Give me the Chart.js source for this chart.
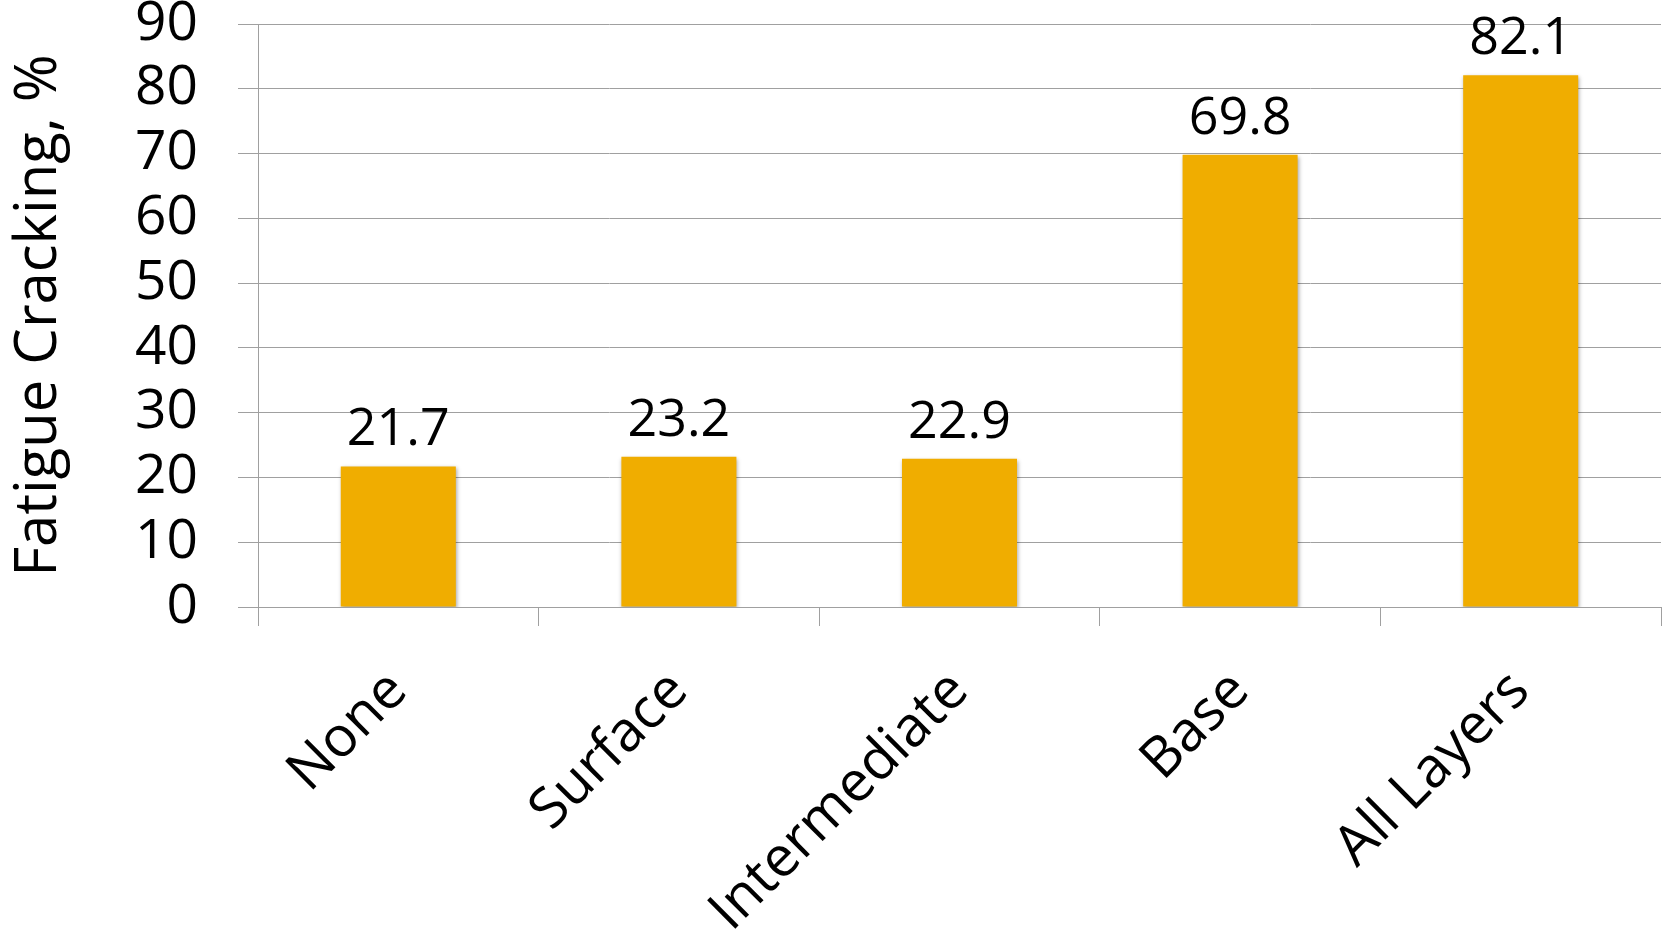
<!DOCTYPE html>
<html>
<head>
<meta charset="utf-8">
<script src="https://cdn.jsdelivr.net/npm/chart.js@4/dist/chart.umd.min.js"></script>
<style>
  html, body { margin: 0; padding: 0; background: #ffffff; }
  #wrap { width: 1670px; height: 930px; }
</style>
</head>
<body>
<div id="wrap"><canvas id="c" width="1670" height="930"></canvas></div>
<script>
const categories = ['None', 'Surface', 'Intermediate', 'Base', 'All Layers'];
const fatigueCracking = [21.7, 23.2, 22.9, 69.8, 82.1];
const yMin = 0;
const yMax = 90;
const yStep = 10;
const yTitle = 'Fatigue Cracking, %';

const FONT = "'Open Sans', 'DejaVu Sans', sans-serif";
const GRID = '#a0a0a0';
const BAR = '#f0ad00';

const barShadow = {
  id: 'barShadow',
  beforeDatasetsDraw(chart) {
    const ctx = chart.ctx;
    ctx.save();
    ctx.shadowColor = 'rgba(0,0,0,0.35)';
    ctx.shadowBlur = 4;
    ctx.shadowOffsetX = 1;
    ctx.shadowOffsetY = 2;
  },
  afterDatasetsDraw(chart) {
    chart.ctx.restore();
  }
};

const valueLabels = {
  id: 'valueLabels',
  afterDatasetsDraw(chart) {
    const ctx = chart.ctx;
    const meta = chart.getDatasetMeta(0);
    const data = chart.data.datasets[0].data;
    ctx.save();
    ctx.shadowColor = 'transparent';
    ctx.fillStyle = '#000';
    ctx.font = "52px " + FONT;
    ctx.textAlign = 'center';
    ctx.textBaseline = 'alphabetic';
    meta.data.forEach((bar, i) => {
      ctx.fillText(data[i].toFixed(1), bar.x, bar.y - 21);
    });
    ctx.restore();
  }
};

new Chart(document.getElementById('c'), {
  type: 'bar',
  data: {
    labels: categories,
    datasets: [{
      data: fatigueCracking,
      backgroundColor: BAR,
      borderWidth: 0,
      barPercentage: 0.41,
      categoryPercentage: 1.0
    }]
  },
  options: {
    responsive: false,
    animation: false,
    devicePixelRatio: 1,
    layout: { padding: { top: 24, right: 9, bottom: 0, left: 0 } },
    plugins: {
      legend: { display: false },
      tooltip: { enabled: false }
    },
    scales: {
      x: {
        offset: true,
        grid: {
          offset: true,
          drawOnChartArea: false,
          drawTicks: true,
          tickLength: 19,
          color: GRID,
          lineWidth: 1
        },
        border: { display: true, color: GRID, width: 1 },
        ticks: {
          minRotation: 45,
          maxRotation: 45,
          autoSkip: false,
          padding: 32,
          color: '#000',
          font: { family: FONT, size: 56 }
        },
        afterFit(scale) {
          scale.height = 930 - 607;
          scale.paddingLeft = 0;
          scale.paddingRight = 0;
        }
      },
      y: {
        min: yMin,
        max: yMax,
        grid: {
          color: GRID,
          lineWidth: 1,
          drawTicks: true,
          tickLength: 20
        },
        border: { display: true, color: GRID, width: 1 },
        ticks: {
          stepSize: yStep,
          autoSkip: false,
          padding: 40,
          color: '#000',
          font: { family: FONT, size: 55 }
        },
        title: {
          display: true,
          text: yTitle,
          color: '#000',
          font: { family: FONT, size: 58 },
          padding: { top: 5, bottom: 0 }
        },
        afterFit(scale) {
          scale.width = 258;
          scale.paddingTop = 0;
          scale.paddingBottom = 0;
        }
      }
    }
  },
  plugins: [barShadow, valueLabels]
});
</script>
</body>
</html>
